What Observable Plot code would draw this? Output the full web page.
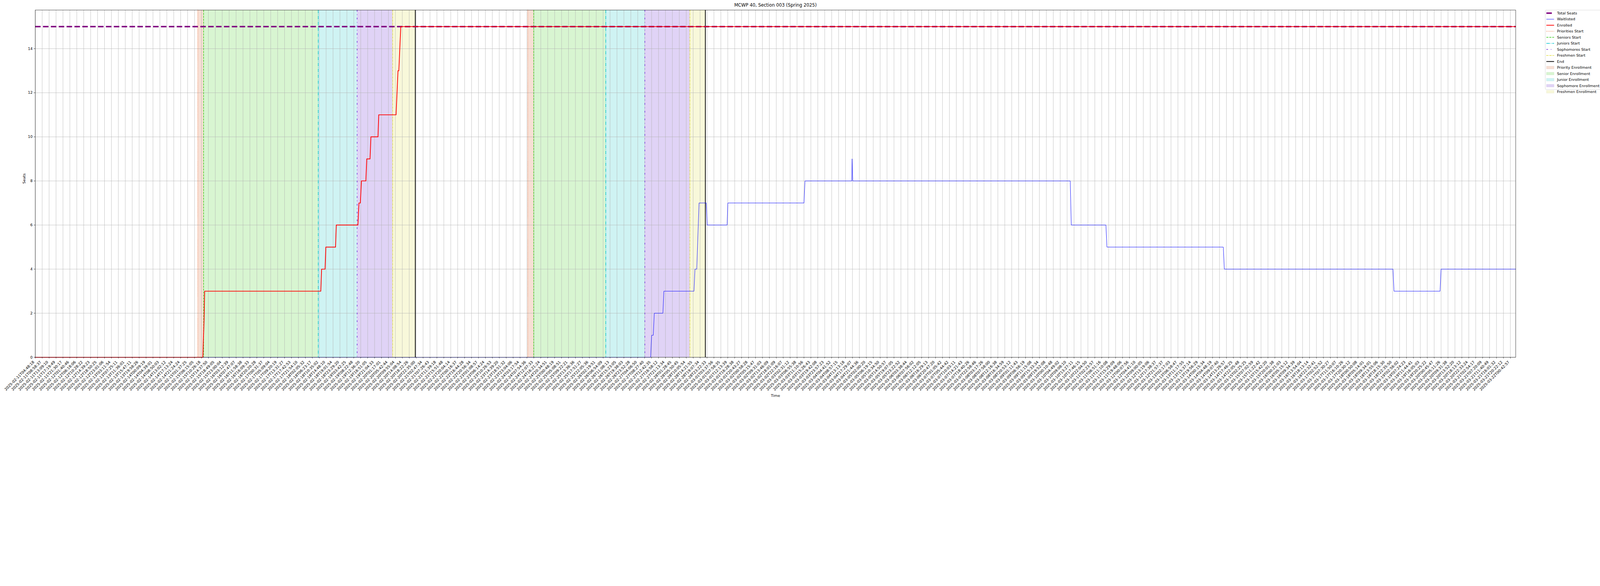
<!DOCTYPE html>
<html>
<head>
<meta charset="utf-8">
<script src="https://cdn.jsdelivr.net/npm/d3@7"></script>
<script src="https://cdn.jsdelivr.net/npm/@observablehq/plot@0.6"></script>
<style>
  html, body { margin: 0; padding: 0; background: white; }
  #wrap { font-family: "DejaVu Sans", sans-serif; }
</style>
</head>
<body>
<div id="wrap"></div>
<script>
// ---------- data ----------
const title = "MCWP 40, Section 003 (Spring 2025)";
const tickLabels = [
"2025-02-11T04:48:18","2025-02-11T08:58:37","2025-02-11T13:09:10","2025-02-11T17:19:49","2025-02-11T21:30:17",
"2025-02-12T01:40:46","2025-02-12T06:18:06","2025-02-12T10:28:22","2025-02-12T14:39:23","2025-02-12T18:50:25",
"2025-02-12T23:01:06","2025-02-13T03:11:54","2025-02-13T07:25:11","2025-02-13T11:36:01","2025-02-13T15:47:11",
"2025-02-13T19:58:26","2025-02-14T00:09:19","2025-02-14T04:39:01","2025-02-14T08:50:03","2025-02-14T13:02:12",
"2025-02-14T17:13:24","2025-02-14T21:24:24","2025-02-15T01:37:25","2025-02-15T06:15:05","2025-02-15T10:26:18",
"2025-02-15T14:37:50","2025-02-15T18:49:05","2025-02-15T23:00:04","2025-02-16T03:12:39","2025-02-16T07:47:07",
"2025-02-16T11:58:38","2025-02-16T16:09:33","2025-02-16T20:20:28","2025-02-17T00:31:37","2025-02-17T05:09:04",
"2025-02-17T09:20:19","2025-02-17T13:31:27","2025-02-17T17:42:53","2025-02-17T21:54:10","2025-02-18T02:05:32",
"2025-02-18T06:23:17","2025-02-18T10:35:02","2025-02-18T14:48:10","2025-02-18T19:01:54","2025-02-18T23:29:20",
"2025-02-19T03:42:25","2025-02-19T08:22:48","2025-02-19T12:36:20","2025-02-19T16:51:05","2025-02-19T21:04:33",
"2025-02-20T01:17:01","2025-02-20T05:42:44","2025-02-20T09:55:04","2025-02-20T14:08:54","2025-02-20T18:22:26",
"2025-02-20T22:35:00","2025-02-21T02:47:34","2025-02-21T07:26:43","2025-02-21T11:39:18","2025-02-21T15:51:48",
"2025-02-21T20:04:14","2025-02-22T00:16:37","2025-02-22T16:44:28","2025-02-22T20:56:34","2025-02-23T01:08:57",
"2025-02-23T06:14:24","2025-02-23T10:26:53","2025-02-23T14:39:20","2025-02-23T18:51:32","2025-02-23T23:04:06",
"2025-02-24T03:17:54","2025-02-24T07:54:36","2025-02-24T12:07:33","2025-02-24T16:21:24","2025-02-24T20:34:51",
"2025-02-25T00:48:19","2025-02-25T05:08:51","2025-02-25T09:22:21","2025-02-25T13:36:36","2025-02-25T17:51:27",
"2025-02-25T22:05:36","2025-02-26T02:19:51","2025-02-26T06:54:09","2025-02-26T11:08:13","2025-02-26T15:23:05",
"2025-02-26T19:38:03","2025-02-26T23:52:28","2025-02-27T04:06:50","2025-02-27T08:27:40","2025-02-27T12:42:35",
"2025-02-27T16:58:12","2025-02-27T21:13:34","2025-02-28T01:28:45","2025-02-28T05:50:45","2025-02-28T10:05:54",
"2025-02-28T14:21:55","2025-02-28T19:07:34","2025-02-28T23:22:33","2025-03-01T03:37:56","2025-03-01T07:58:35",
"2025-03-01T12:13:39","2025-03-01T16:28:38","2025-03-01T20:43:27","2025-03-02T00:58:28","2025-03-02T05:15:47",
"2025-03-02T09:31:03","2025-03-02T13:46:09","2025-03-02T18:01:09","2025-03-02T22:16:07","2025-03-03T02:31:12",
"2025-03-03T06:55:38","2025-03-03T11:10:56","2025-03-03T15:26:43","2025-03-03T19:42:08","2025-03-03T23:57:23",
"2025-03-04T04:41:52","2025-03-04T08:57:15","2025-03-04T13:13:18","2025-03-04T17:29:07","2025-03-04T21:44:36",
"2025-03-05T02:00:20","2025-03-05T06:19:15","2025-03-05T10:34:50","2025-03-05T14:50:57","2025-03-05T19:07:05",
"2025-03-05T23:22:52","2025-03-06T03:38:44","2025-03-06T07:56:02","2025-03-06T12:12:05","2025-03-06T16:29:13",
"2025-03-06T20:47:20","2025-03-07T01:05:42","2025-03-07T05:44:42","2025-03-07T10:03:11","2025-03-07T14:21:43",
"2025-03-07T18:40:26","2025-03-07T22:58:46","2025-03-08T03:17:26","2025-03-08T07:58:00","2025-03-08T12:16:38",
"2025-03-08T16:34:59","2025-03-08T20:53:12","2025-03-09T01:11:43","2025-03-09T06:56:19","2025-03-09T11:15:08",
"2025-03-09T15:33:34","2025-03-09T19:52:08","2025-03-10T00:10:48","2025-03-10T04:49:02","2025-03-10T09:08:10",
"2025-03-10T13:27:11","2025-03-10T17:46:15","2025-03-10T22:04:50","2025-03-11T02:23:57","2025-03-11T06:51:16",
"2025-03-11T11:10:08","2025-03-11T15:29:09","2025-03-11T19:48:06","2025-03-12T00:07:56","2025-03-12T04:41:10",
"2025-03-12T09:00:05","2025-03-12T13:19:06","2025-03-12T17:38:37","2025-03-12T21:57:37","2025-03-13T02:17:03",
"2025-03-13T06:58:47","2025-03-13T11:17:55","2025-03-13T15:37:14","2025-03-13T19:56:29","2025-03-14T00:15:34",
"2025-03-14T04:48:19","2025-03-14T09:07:40","2025-03-14T13:26:57","2025-03-14T17:46:25","2025-03-14T22:05:48",
"2025-03-15T02:25:25","2025-03-15T07:02:59","2025-03-15T11:22:42","2025-03-15T15:42:20","2025-03-15T20:01:38",
"2025-03-16T00:21:03","2025-03-16T05:15:12","2025-03-16T09:34:39","2025-03-16T13:54:04","2025-03-16T18:13:14",
"2025-03-16T22:32:41","2025-03-17T02:52:52","2025-03-17T07:30:27","2025-03-17T11:50:07","2025-03-17T16:10:26",
"2025-03-17T20:30:12","2025-03-18T00:50:08","2025-03-18T05:14:01","2025-03-18T09:34:01","2025-03-18T13:55:06",
"2025-03-18T18:15:30","2025-03-18T22:35:50","2025-03-19T02:56:02","2025-03-19T07:24:23","2025-03-19T11:44:41",
"2025-03-19T16:05:03","2025-03-19T20:25:22","2025-03-20T00:45:47","2025-03-20T05:11:26","2025-03-20T09:31:38",
"2025-03-20T13:52:20","2025-03-20T18:13:12","2025-03-20T22:33:24","2025-03-21T02:54:17","2025-03-21T07:20:09",
"2025-03-21T11:40:49","2025-03-21T16:01:32","2025-03-21T20:22:12","2025-03-22T00:42:57"
];
const yTicks = [0, 2, 4, 6, 8, 10, 12, 14];
const totalSeats = 15;
const lastPosition = 213.77;   // position of the last sample, in tick-label units
const yTop = 15.75;

// positions are measured in tick-label units (0 = first label)
const enrolledPos = [0, 24.20, 24.29, 24.38, 24.46, 41.23, 41.35, 41.85, 41.96, 43.36, 43.47, 46.59, 46.74, 46.94, 47.10, 47.74, 47.87, 48.34, 48.47, 49.49, 49.60, 52.10, 52.38, 52.50, 52.78, 213.77];
const enrolledVal = [0, 0, 0.9, 1.7, 3, 3, 4, 4, 5, 5, 6, 6, 7, 7, 8, 8, 9, 9, 10, 10, 11, 11, 13, 13, 15, 15];

const waitlistPos = [0, 88.86, 89.00, 89.24, 89.39, 90.63, 90.77, 95.12, 95.26, 95.52, 95.85, 96.89, 97.03, 99.90, 100.01, 111.00, 111.15, 117.90, 117.95, 118.05, 149.45, 149.60, 154.60, 154.75, 171.55, 171.70, 196.05, 196.20, 202.85, 203.00, 213.77];
const waitlistVal = [0, 0, 1, 1, 2, 2, 3, 3, 4, 4, 7, 7, 6, 6, 7, 7, 8, 8, 9, 8, 8, 6, 6, 5, 5, 4, 4, 3, 3, 4, 4];

const phaseNames = ["Priority Enrollment", "Senior Enrollment", "Junior Enrollment", "Sophomore Enrollment", "Freshmen Enrollment"];
const startNames = ["Priorities Start", "Seniors Start", "Juniors Start", "Sophomores Start", "Freshmen Start"];
const round1Starts = [23.47, 24.31, 40.86, 46.48, 51.61];
const round1End = 54.88;
const round2Starts = [71.12, 71.98, 82.38, 88.02, 94.53];
const round2End = 96.76;

// ---------- styles ----------
const phaseFills = ["#f7dfd4", "#d8f5d1", "#cff3f3", "#e0d3f6", "#f8f8da"];
const startColors = ["#ee6c35", "#3acb1a", "#00c5cf", "#6b24d9", "#dedb2c"];
const startDash = ["2.1,3.4", "7.7,3.3", "13.3,3.3,2.1,3.3", "6.2,10.4,2.1,10.4", "6.2,2.1,2.1,2.1"];
const FS = 13.9;
const W = 6000, H = 1500;
const mL = 131.7, mR = 316.7, mT = 37.3, mB = 160.7;

// ---------- derived tables ----------
const enrolled = enrolledPos.map((x, i) => ({x, y: enrolledVal[i]}));
const waitlist = waitlistPos.map((x, i) => ({x, y: waitlistVal[i]}));
const rounds = [{starts: round1Starts, end: round1End}, {starts: round2Starts, end: round2End}];
const spans = [];
const starts = [];
rounds.forEach(r => {
  r.starts.forEach((s, i) => {
    spans.push({i, x1: s, x2: i < r.starts.length - 1 ? r.starts[i + 1] : r.end});
    starts.push({i, x: s});
  });
});
const ends = rounds.map(r => r.end);
const tickIdx = d3.range(tickLabels.length);

const chart = Plot.plot({
  width: W,
  height: H,
  marginLeft: mL,
  marginRight: mR,
  marginTop: mT,
  marginBottom: mB,
  x: {domain: [0, lastPosition], axis: null},
  y: {domain: [0, yTop], axis: null},
  style: {fontFamily: "DejaVu Sans", fontSize: FS + "px", color: "black", background: "white", overflow: "hidden"},
  marks: [
    Plot.rect(spans, {x1: "x1", x2: "x2", y1: 0, y2: yTop, fill: d => phaseFills[d.i]}),
    Plot.ruleX(tickIdx, {stroke: "#b0b0b0", strokeWidth: 1.11}),
    Plot.ruleY(yTicks, {stroke: "#b0b0b0", strokeWidth: 1.11}),
    ...startColors.map((c, k) => Plot.ruleX(starts.filter(d => d.i === k), {x: "x", stroke: c, strokeWidth: 2.08, strokeDasharray: startDash[k]})),
    Plot.ruleX(ends, {stroke: "black", strokeWidth: 2.78}),
    Plot.ruleY([totalSeats], {stroke: "#800080", strokeWidth: 5.56, strokeDasharray: "20.6,8.9"}),
    Plot.line(waitlist, {x: "x", y: "y", stroke: "blue", strokeWidth: 1.39}),
    Plot.line(enrolled, {x: "x", y: "y", stroke: "red", strokeWidth: 2.78}),
    Plot.frame({stroke: "black", strokeWidth: 1.11}),
    Plot.axisX(tickIdx, {fill: "none", tickSize: 4.9, strokeWidth: 1.11, label: null}),
    Plot.text(tickIdx, {x: d => d, text: d => tickLabels[d], frameAnchor: "bottom", rotate: -45, textAnchor: "end", lineAnchor: "middle", dx: -5.7, dy: 15.5, fontSize: FS, fill: "black"}),
    Plot.axisY(yTicks, {tickSize: 4.9, tickPadding: 4.9, fontSize: FS, strokeWidth: 1.11, label: null, tickFormat: d => String(d)}),
    Plot.text([title], {frameAnchor: "top", dy: -18, fontSize: 16.7, lineAnchor: "middle", fill: "black"}),
    Plot.text(["Time"], {frameAnchor: "bottom", dy: 144, fontSize: FS, lineAnchor: "middle", fill: "black"}),
    Plot.text(["Seats"], {frameAnchor: "left", dx: -42, rotate: -90, fontSize: FS, lineAnchor: "middle", fill: "black"})
  ]
});

// ---------- legend (drawn inside the same SVG, right of the axes) ----------
const legendItems = [
  {label: "Total Seats", type: "line", color: "#800080", width: 5.56, dash: "20.6,8.9"},
  {label: "Waitlisted", type: "line", color: "blue", width: 1.39, dash: null},
  {label: "Enrolled", type: "line", color: "red", width: 2.78, dash: null},
  ...startNames.map((n, k) => ({label: n, type: "line", color: startColors[k], width: 2.08, dash: startDash[k]})),
  {label: "End", type: "line", color: "black", width: 2.78, dash: null},
  ...phaseNames.map((n, k) => ({label: n, type: "patch", color: phaseFills[k]}))
];
const rowH = 22.67, firstY = 12;
const legX = (W - mR) + 0.02 * (W - mL - mR);
const leg = d3.select(chart).append("g").attr("transform", `translate(${legX},${mT})`).attr("text-anchor", "start");
leg.append("rect").attr("x", 0.55).attr("y", 0.55).attr("width", W - legX + 4).attr("height", 297.5)
  .attr("rx", 3).attr("fill", "white").attr("fill-opacity", 0.8).attr("stroke", "#cccccc").attr("stroke-width", 1.11);
legendItems.forEach((d, i) => {
  const cy = firstY + i * rowH;
  if (d.type === "line") {
    leg.append("line").attr("x1", 4.5).attr("x2", 33.5).attr("y1", cy).attr("y2", cy)
      .attr("stroke", d.color).attr("stroke-width", d.width).attr("stroke-dasharray", d.dash);
  } else {
    leg.append("rect").attr("x", 5).attr("y", cy - 4.9).attr("width", 28).attr("height", 9.8)
      .attr("fill", d.color).attr("stroke", d3.color(d.color).darker(0.15)).attr("stroke-width", 1);
  }
  leg.append("text").attr("x", 44.5).attr("y", cy).attr("dy", "0.35em").attr("text-anchor", "start")
    .attr("font-family", "DejaVu Sans").attr("font-size", FS).attr("fill", "black").text(d.label);
});
document.getElementById("wrap").appendChild(chart);
</script>
</body>
</html>
